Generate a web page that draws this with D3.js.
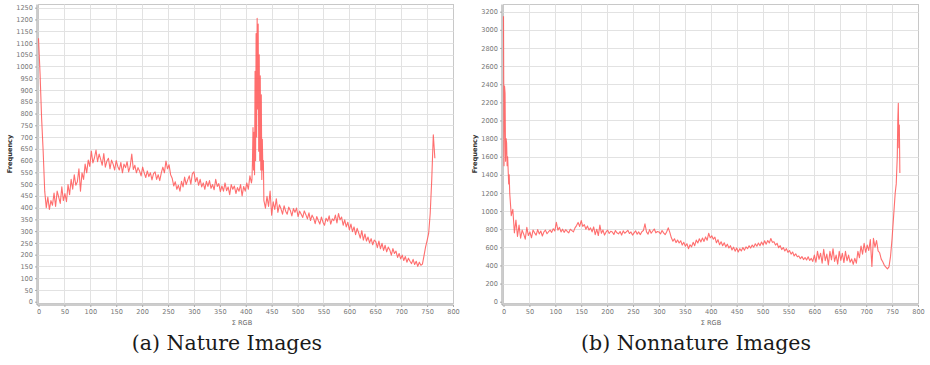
<!DOCTYPE html>
<html>
<head>
<meta charset="utf-8">
<script src="https://cdn.jsdelivr.net/npm/d3@7/dist/d3.min.js"></script>
<style>
  html, body { margin: 0; padding: 0; background: #fff; }
  svg { display: block; }
</style>
</head>
<body>
<div id="chart"></div>
<script>
// histogram bins of sum(R,G,B), read every 3 units from the figure
const binStep = 3;

const xTickValues = [0, 50, 100, 150, 200, 250, 300, 350, 400, 450, 500, 550, 600, 650, 700, 750, 800];
const natureTickValues = [0, 50, 100, 150, 200, 250, 300, 350, 400, 450, 500, 550, 600, 650, 700, 750, 800, 850, 900, 950, 1000, 1050, 1100, 1150, 1200, 1250];
const nonnatureTickValues = [0, 200, 400, 600, 800, 1000, 1200, 1400, 1600, 1800, 2000, 2200, 2400, 2600, 2800, 3000, 3200];

// nature images, x = 0, 3, 6 ... 765
const natureCounts = [
  1120, 970, 780, 640, 470, 400, 445, 392, 430, 410,
  462, 405, 470, 445, 418, 488, 430, 460, 425, 498,
  455, 520, 478, 540, 495, 510, 565, 470, 548, 520,
  585, 548, 602, 575, 640, 590, 612, 645, 595, 628,
  605, 580, 630, 572, 598, 610, 565, 602, 585, 560,
  600, 575, 560, 592, 548, 585, 570, 595, 552, 575,
  628, 562, 580, 548, 570, 556, 535, 572, 548, 528,
  556, 532, 548, 518, 545, 552, 520, 540, 515, 548,
  572, 548, 598, 565, 582, 540, 525, 492, 510, 478,
  495, 470, 512, 488, 530, 498, 518, 535, 500, 545,
  552, 510, 528, 495, 520, 488, 505, 478, 512, 490,
  515, 482, 498, 476, 520, 490, 502, 468, 492, 470,
  505, 472, 488, 455, 498, 478, 492, 460, 485, 470,
  498, 450, 490, 470, 505, 478, 535, 505, 740, 560,
  1140, 1205, 1050, 880, 690, 430, 398, 448, 405, 470,
  368, 425, 392, 438, 380, 412, 395, 372, 408, 385,
  372, 402, 388, 365, 396, 380, 398, 362, 385, 372,
  358, 386, 370, 352, 378, 345, 368, 355, 332, 362,
  345, 330, 360, 338, 325, 355, 342, 365, 330, 352,
  345, 368, 335, 375, 348, 360, 325, 348, 318, 338,
  305, 330, 298, 318, 285, 312, 292, 270, 302, 262,
  288, 258, 275, 250, 268, 242, 262, 255, 230, 258,
  225, 248, 218, 240, 212, 232, 220, 198, 226, 205,
  215, 188, 205, 182, 198, 175, 192, 168, 185, 172,
  162, 180, 158, 172, 150, 168, 155, 160, 195, 232,
  260, 290, 375, 520, 710, 610
];
// finer reading of the narrow peak near 420
const natureDetailX = [412, 413, 414, 415, 416, 417, 418, 419, 420, 421, 422, 423, 424, 425, 426, 427, 428, 429, 430, 431, 432, 433, 434, 435, 436];
const natureDetailY = [520, 600, 740, 560, 720, 540, 980, 600, 1140, 700, 1205, 820, 1180, 640, 1050, 600, 960, 560, 880, 520, 690, 560, 600, 430, 420];

// nonnature images, x = 0, 3, 6 ... 765
const nonnatureCounts = [
  3150, 2380, 1700, 1650, 1200, 950, 1020, 760, 900, 720,
  845, 700, 790, 745, 690, 820, 730, 770, 705, 790,
  760, 735, 795, 748, 780, 725, 770, 790, 750, 772,
  790, 765, 805, 780, 875, 790, 820, 770, 800, 765,
  795, 775, 760, 800, 785, 770, 815, 840, 875, 830,
  895, 830, 850, 800, 835, 790, 815, 770, 825, 740,
  800, 730, 845, 755, 790, 735, 770, 790, 752, 778,
  770, 742, 785, 760, 748, 775, 735, 782, 755, 770,
  788, 752, 770, 735, 760, 782, 745, 770, 740, 772,
  785, 860, 770, 745, 795, 755, 780, 802, 760, 775,
  770, 748, 785, 760, 740, 772, 815, 765, 705, 668,
  695, 652, 680, 648, 672, 625, 655, 612, 640, 585,
  628, 605, 655, 618, 680, 648, 695, 660, 702, 665,
  715, 678, 755, 705, 728, 690, 712, 650, 685, 628,
  662, 618, 650, 605, 635, 592, 618, 570, 602, 558,
  592, 548, 585, 560, 598, 568, 605, 585, 618, 592,
  625, 602, 640, 612, 648, 618, 658, 625, 672, 635,
  675, 648, 698, 655, 662, 625, 645, 595, 618, 575,
  598, 560, 585, 545, 565, 525, 548, 505, 528, 495,
  505, 475, 498, 465, 488, 460, 495, 455, 478, 445,
  515, 435, 555, 468, 535, 425, 578, 452, 525, 405,
  555, 462, 585, 445, 515, 415, 555, 455, 535, 432,
  555, 452, 515, 435, 472, 412, 478, 425, 555, 485,
  615, 525, 645, 545, 625, 565, 685, 390, 700, 602,
  675, 560, 540, 470, 440, 402, 382, 362, 385, 500,
  700, 950, 1200, 1420, 2190, 1420
];
// finer reading of both ends
const nonnatureDetailX = [0, 1, 2, 3, 4, 5, 6, 7, 8, 9, 10, 11, 12, 758, 759, 760, 761, 762, 763, 764, 765];
const nonnatureDetailY = [3150, 1500, 2380, 2300, 1550, 1800, 1750, 1500, 1600, 1450, 1300, 1400, 1200, 1300, 1450, 1600, 2000, 2190, 1700, 1950, 1420];

// merge the regular bins with the finer readings, the finer ones win inside their span
function seriesPoints(counts, detailX, detailY) {
  const low = detailX.filter((d) => d < 380);
  const high = detailX.filter((d) => d >= 380);
  const inLow = (x) => low.length && x >= d3.min(low) && x <= d3.max(low);
  const inHigh = (x) => high.length && x >= d3.min(high) && x <= d3.max(high);
  const main = counts
    .map((v, i) => ({ x: i * binStep, y: v }))
    .filter((p) => !inLow(p.x) && !inHigh(p.x));
  const extra = detailX.map((x, i) => ({ x, y: detailY[i] }));
  return main.concat(extra).sort((a, b) => a.x - b.x);
}

const width = 930;
const height = 365;
const svg = d3.select('#chart').append('svg').attr('width', width).attr('height', height);

const tickFont = '"DejaVu Sans", sans-serif';
const panels = [
  {
    left: 38.5, right: 453.5, top: 4.5, bottom: 303.5,
    yMax: 1250, yTop: 7.7, yTicks: natureTickValues,
    points: seriesPoints(natureCounts, natureDetailX, natureDetailY),
    caption: '(a) Nature Images', labelX: 242, captionX: 227,
  },
  {
    left: 503.5, right: 918.5, top: 4.5, bottom: 303.5,
    yMax: 3200, yTop: 11.7, yTicks: nonnatureTickValues,
    points: seriesPoints(nonnatureCounts, nonnatureDetailX, nonnatureDetailY),
    caption: '(b) Nonnature Images', labelX: 711, captionX: 696,
  },
];

panels.forEach((p) => {
  const x = d3.scaleLinear().domain([0, 800]).range([p.left, p.right - 0.5]);
  const y = d3.scaleLinear().domain([0, p.yMax]).range([301.7, p.yTop]);
  const g = svg.append('g');

  g.append('rect')
    .attr('x', p.left).attr('y', p.top)
    .attr('width', p.right - p.left).attr('height', p.bottom - p.top)
    .attr('fill', '#fff').attr('stroke', '#c8c8c8').attr('stroke-width', 1);

  // grid
  g.append('g').selectAll('line').data(xTickValues.slice(1, -1)).join('line')
    .attr('x1', (d) => Math.round(x(d)) + 0.5).attr('x2', (d) => Math.round(x(d)) + 0.5)
    .attr('y1', p.top).attr('y2', p.bottom)
    .attr('stroke', '#e2e2e2').attr('stroke-width', 1);
  g.append('g').selectAll('line').data(p.yTicks.slice(1)).join('line')
    .attr('x1', p.left).attr('x2', p.right)
    .attr('y1', (d) => Math.round(y(d)) + 0.5).attr('y2', (d) => Math.round(y(d)) + 0.5)
    .attr('stroke', '#e2e2e2').attr('stroke-width', 1);

  // axes
  const yAxis = d3.axisLeft(y).tickValues(p.yTicks).tickSize(2).tickPadding(2).tickFormat(d3.format('d'));
  const xAxis = d3.axisBottom(x).tickValues(xTickValues).tickSize(2).tickPadding(2).tickFormat(d3.format('d'));

  const ya = g.append('g').attr('transform', `translate(${p.left - 1.5},0)`).call(yAxis);
  ya.select('.domain').attr('d', `M0,${p.top}V${p.bottom + 1.5}`).attr('stroke', '#9a9a9a');
  const xa = g.append('g').attr('transform', `translate(0,${p.bottom + 1.5})`).call(xAxis);
  xa.select('.domain').attr('d', `M${p.left - 1.5},0H${p.right}`).attr('stroke', '#9a9a9a');

  [ya, xa].forEach((a) => {
    a.selectAll('.tick line').attr('stroke', '#aaa');
    a.selectAll('.tick text').attr('fill', '#777').attr('font-size', 6.6).attr('font-family', tickFont);
  });

  // series
  const line = d3.line().x((d) => x(d.x)).y((d) => y(d.y));
  g.append('path')
    .datum(p.points)
    .attr('d', line)
    .attr('fill', 'none')
    .attr('stroke', '#ff5555')
    .attr('stroke-width', 1.1)
    .attr('stroke-linejoin', 'round')
    .attr('stroke-opacity', 0.85);

  // axis titles
  g.append('text')
    .attr('transform', `translate(${p.left - 27},${(p.top + p.bottom) / 2}) rotate(-90)`)
    .attr('text-anchor', 'middle')
    .attr('font-family', tickFont)
    .attr('font-size', 6.6)
    .attr('font-weight', 'bold')
    .attr('fill', '#333')
    .text('Frequency');

  g.append('text')
    .attr('x', p.labelX).attr('y', 324.5)
    .attr('text-anchor', 'middle')
    .attr('font-family', tickFont)
    .attr('font-size', 6.6)
    .attr('fill', '#666')
    .text('\u03A3 RGB');

  g.append('text')
    .attr('x', p.captionX).attr('y', 350)
    .attr('text-anchor', 'middle')
    .attr('font-family', '"DejaVu Serif", "Liberation Serif", serif')
    .attr('font-size', 20.5)
    .attr('fill', '#1a1a1a')
    .text(p.caption);
});
</script>
</body>
</html>
